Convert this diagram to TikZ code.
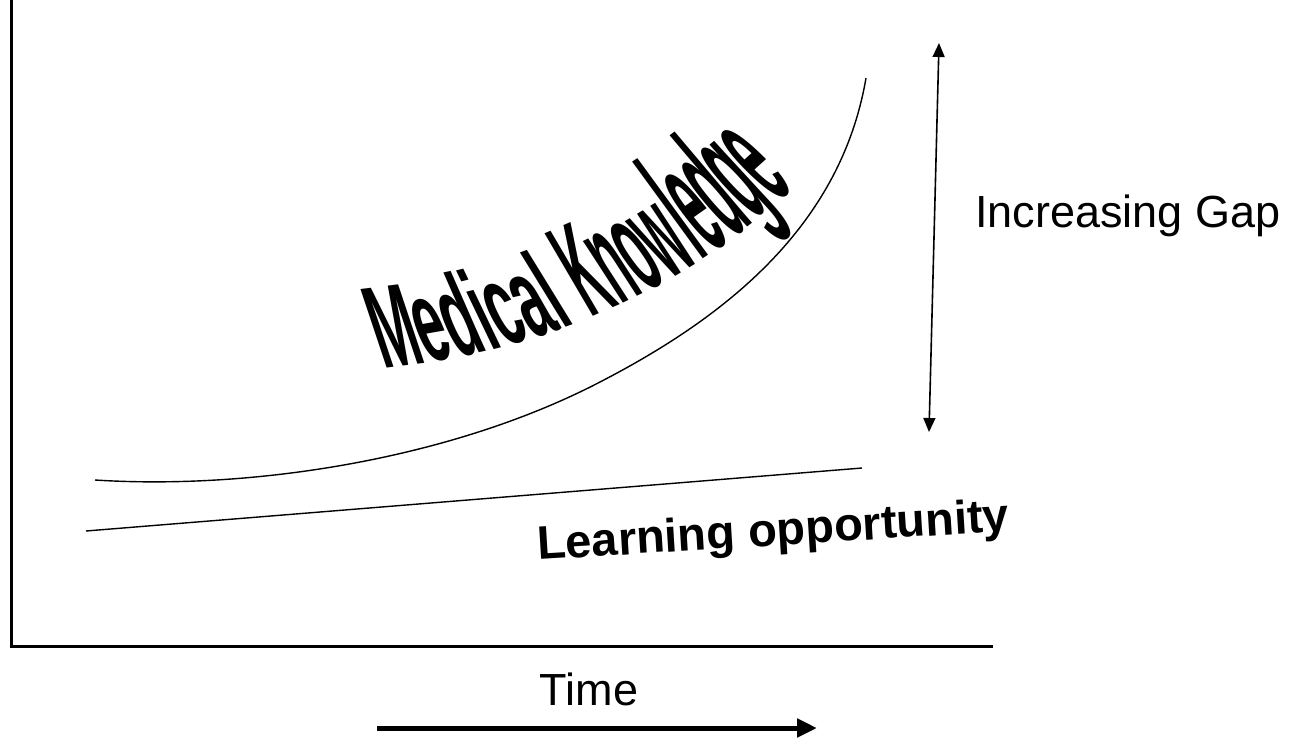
\documentclass[tikz,border=0pt]{standalone}
\usepackage{fontspec}
\setmainfont{Liberation Sans}
\newfontfamily\mkwide[FakeStretch=0.46,FakeSlant=-0.2]{Liberation Sans Bold}
\newfontfamily\mkmid[FakeStretch=0.33,FakeSlant=-0.12]{Liberation Sans Bold}
\newfontfamily\mknarrow[FakeStretch=0.28,FakeSlant=-0.05]{Liberation Sans Bold}
\newcommand{\mksize}[2]{#1\fontsize{#2}{#2}\selectfont}
\usetikzlibrary{arrows.meta,decorations.text}

\begin{document}
\begin{tikzpicture}[x=1pt,y=-1pt,
    txt/.style={inner sep=0pt,font=\fontsize{45}{54}\selectfont},
    curve/.style={line width=1.4pt},
    gaparrow/.style={line width=1.6pt,
      {Triangle[length=14pt,width=12pt]}-{Triangle[length=14pt,width=12pt]}},
    timearrow/.style={line width=5pt,-{Triangle[length=20pt,width=18pt]}}]

    \useasboundingbox (0,0) rectangle (1307,739);

    %==================== Axes ====================
    \coordinate (ytop) at (11.5,0);
    \coordinate (origin) at (11.5,646.5);
    \coordinate (xend) at (993,646.5);
    \draw[line width=2.5pt] (ytop) -- (origin) -- (xend);

    %==================== Curves ====================
    % Medical knowledge (growing fast)
    \coordinate (kstart) at (95,480);
    \coordinate (kmid) at (600,382);
    \coordinate (kend) at (866,78);
    \draw[curve] (kstart) .. controls (250,490) and (450,460) .. (kmid)
                          .. controls (720,320) and (840,230) .. (kend);

    % Learning opportunity (slow straight rise)
    \coordinate (lstart) at (86,531);
    \coordinate (lend) at (862,468);
    \draw[curve] (lstart) -- (lend);

    % Warped title above the curve
    \path[decorate,decoration={text along path,text align=left,
        text={|\mksize{\mkwide}{118}|Medical |\mksize{\mkmid}{138}|Know|\mksize{\mknarrow}{165}|ledge}}]
      (383,368) .. controls (520,355) and (700,300) .. (840,140);

    \node[txt,font=\fontsize{47}{56}\selectfont\bfseries,
      anchor=base west,rotate=3.5] (learn) at (538,560) {Learning opportunity};

    %==================== Gap ====================
    \coordinate (gaplow) at (929,432);
    \coordinate (gaphigh) at (939,43);
    \draw[gaparrow] (gaplow) -- (gaphigh);
    \node[txt,anchor=base west] (gap) at (975,227) {Increasing Gap};

    %==================== Time ====================
    \node[txt,anchor=base] (time) at (589,705) {Time};
    \coordinate (tstart) at (377,728);
    \coordinate (tend) at (817,728);
    \draw[timearrow] (tstart) -- (tend);

\end{tikzpicture}
\end{document}
